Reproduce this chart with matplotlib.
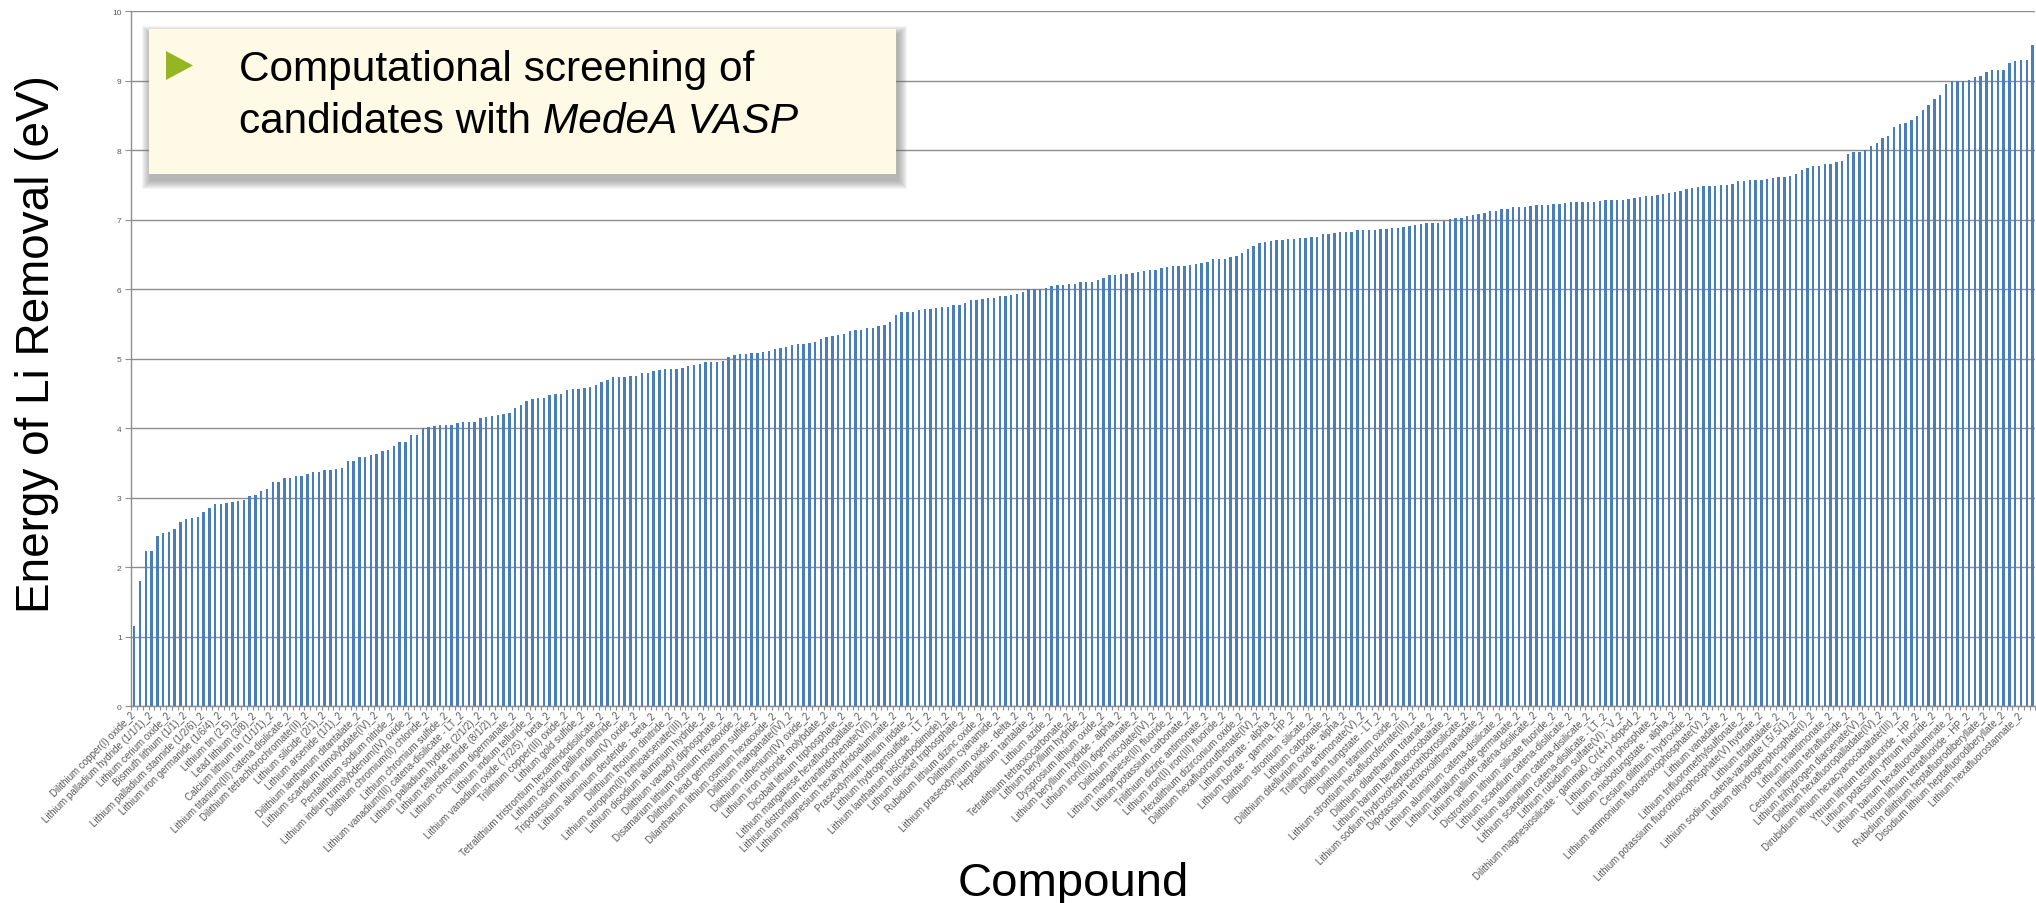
import numpy as np
import matplotlib
matplotlib.use("Agg")
import matplotlib.pyplot as plt
from matplotlib.patches import Rectangle, Polygon

# Li removal energy (eV), compounds sorted by energy
energy_low = [
    1.15, 1.80, 2.23, 2.24, 2.45, 2.49, 2.51, 2.55, 2.66, 2.69,
    2.71, 2.72, 2.80, 2.86, 2.91, 2.91, 2.92, 2.94, 2.96, 2.97,
    3.02, 3.04, 3.10, 3.13, 3.23, 3.23, 3.28, 3.28, 3.31, 3.31,
    3.35, 3.37, 3.37, 3.40, 3.40, 3.41, 3.43, 3.53, 3.53, 3.59,
    3.59, 3.61, 3.63, 3.68, 3.69, 3.75, 3.80, 3.81, 3.90, 3.91,
    4.00, 4.02, 4.04, 4.05, 4.05, 4.05, 4.07, 4.09, 4.09, 4.09,
    4.15, 4.17, 4.18, 4.19,
]
energy_mid = [
    4.20, 4.22, 4.30, 4.34, 4.40, 4.42, 4.43, 4.44, 4.48, 4.49,
    4.50, 4.55, 4.57, 4.57, 4.58, 4.60, 4.62, 4.66, 4.70, 4.74,
    4.74, 4.74, 4.75, 4.76, 4.79, 4.80, 4.82, 4.84, 4.86, 4.86,
    4.86, 4.87, 4.89, 4.91, 4.92, 4.95, 4.96, 4.96, 4.97, 5.02,
    5.05, 5.07, 5.07, 5.08, 5.09, 5.10, 5.12, 5.14, 5.15, 5.17,
    5.20, 5.21, 5.22, 5.23, 5.24, 5.28, 5.32, 5.33, 5.34, 5.36,
    5.40, 5.41, 5.42, 5.44, 5.45, 5.47, 5.49, 5.53, 5.63, 5.67,
    5.67, 5.68, 5.70, 5.71, 5.72, 5.73, 5.74, 5.75, 5.77, 5.78,
    5.80, 5.84, 5.85, 5.86, 5.87, 5.88, 5.90, 5.91, 5.92, 5.93,
    5.96, 6.00, 6.01, 6.01, 6.02, 6.05, 6.06, 6.06, 6.07, 6.08,
    6.10, 6.10, 6.11, 6.14, 6.16, 6.21, 6.21, 6.22, 6.22, 6.24,
    6.25, 6.26, 6.28, 6.28, 6.31, 6.32, 6.33, 6.34, 6.34, 6.35,
    6.36, 6.38, 6.40, 6.43, 6.44, 6.44, 6.46, 6.48, 6.52, 6.58,
    6.62, 6.66, 6.68, 6.69,
]
energy_high = [
    6.71, 6.71, 6.73, 6.73, 6.74, 6.74, 6.75, 6.76, 6.79, 6.80,
    6.81, 6.82, 6.82, 6.83, 6.85, 6.86, 6.86, 6.86, 6.87, 6.87,
    6.88, 6.88, 6.90, 6.91, 6.92, 6.94, 6.95, 6.95, 6.96, 6.99,
    7.01, 7.02, 7.03, 7.05, 7.07, 7.08, 7.10, 7.12, 7.13, 7.15,
    7.16, 7.18, 7.19, 7.19, 7.20, 7.21, 7.22, 7.22, 7.23, 7.23,
    7.24, 7.25, 7.25, 7.25, 7.26, 7.26, 7.27, 7.28, 7.28, 7.29,
    7.29, 7.30, 7.32, 7.33, 7.34, 7.35, 7.36, 7.37, 7.39, 7.40,
    7.42, 7.45, 7.46, 7.47, 7.48, 7.48, 7.49, 7.50, 7.50, 7.52,
    7.56, 7.56, 7.57, 7.57, 7.58, 7.59, 7.60, 7.61, 7.62, 7.63,
    7.66, 7.71, 7.75, 7.77, 7.78, 7.80, 7.81, 7.83, 7.84, 7.95,
    7.97, 7.98, 8.01, 8.06, 8.10, 8.18, 8.20, 8.34, 8.38, 8.40,
    8.44, 8.50, 8.58, 8.65, 8.74, 8.79, 8.95, 9.00, 9.00, 9.00,
    9.01, 9.05, 9.07, 9.13, 9.16, 9.16, 9.16, 9.25, 9.29, 9.30,
    9.30, 9.51,
]

# only every third compound carries a label on the axis
LABEL_STEP = 3
compound_labels = [
    "Dilithium copper(I) oxide_2", "Lithium palladium hydride (1/1/1)_2",
    "Lithium cerium oxide_2", "Bismuth lithium (1/1)_2",
    "Lithium palladium stannide (1/2/6)_2", "Lithium iron germanide (1/6/4)_2",
    "Lithium tin (2.5)_2", "Lead lithium (3/8)_2",
    "Calcium lithium tin (1/1/1)_2", "Lithium titanium(III) catena disilicate_2",
    "Dilithium tetrachlorochromate(II)_2", "Lithium silicide (2/1)_2",
    "Lithium arsenide (1/1)_2", "Dilithium lanthanum ditantalate_2",
    "Lithium scandium trimolybdate(IV)_2", "Pentalithium sodium nitride_2",
    "Lithium indium trimolybdenum(IV) oxide_2", "Dilithium chromium(II) chloride_2",
    "Lithium chromium sulfide_2", "Lithium vanadium(III) catena-disilicate - LT_2",
    "Lithium palladium hydride (2/1/2)_2", "Lithium telluride nitride (8/1/2)_2",
    "Lithium chromium digermanate_2", "Lithium indium telluride_2",
    "Lithium vanadium oxide (.7/2/5) - beta_2", "Trilithium copper(III) oxide_2",
    "Lithium gold sulfide_2", "Tetralithium tristrontium hexanitridodisilicate_2",
    "Lithium calcium gallium dinitride_2", "Tripotassium lithium iridium(V) oxide_2",
    "Lithium aluminium deuteride - beta_2", "Dilithium thorium dinitride_2",
    "Lithium europium(II) trithioarsenate(III)_2", "Lithium disodium aluminium hydride_2",
    "Dilithium vanadyl diphosphate_2", "Disamarium lithium osmium hexaoxide_2",
    "Dilithium lead germanium sulfide_2", "Dilanthanum lithium osmium hexaoxide_2",
    "Dilithium manganate(IV)_2", "Dilithium ruthenium(IV) oxide_2",
    "Lithium iron chloride molybdate_2", "Dicobalt lithium triphosphate_2",
    "Lithium manganese hexafluorogallate_2", "Lithium distrontium tetranitridorhenate(VII)_2",
    "Lithium magnesium hexahydridoaluminate_2", "Praseodymium lithium iridate_2",
    "Lithium hydrogensulfide - LT_2", "Lithium lanthanum bis(carbodiimide)_2",
    "Lithium dinickel triphosphate_2", "Rubidium lithium dizinc oxide_2",
    "Dilithium cyanamide_2", "Lithium praseodymium oxide - delta_2",
    "Heptalithium tantalate_2", "Lithium azide_2",
    "Tetralithium tetraoxocarbonate_2", "Lithium beryllium hydride_2",
    "Dysprosium lithium oxide_2", "Lithium beryllium hydride - alpha_2",
    "Lithium iron(III) digermanate_2", "Dilithium niccolate(IV)_2",
    "Lithium manganese(III) fluoride_2", "Lithium potassium carbonate_2",
    "Trilithium dizinc antimonate_2", "Lithium iron(II) iron(III) fluoride_2",
    "Hexalithium dizirconium oxide_2", "Dilithium hexafluororuthenate(IV)_2",
    "Lithium borate - alpha_2", "Lithium borate - gamma, HP_2",
    "Dilithium strontium silicate_2", "Lithium carbonate_2",
    "Dilithium ditellurium oxide - alpha_2", "Trilithium antimonate(V)_2",
    "Dilithium tungstate - LT_2", "Dilithium titanium oxide_2",
    "Lithium strontium hexafluoroferrate(III)_2", "Dilithium dilanthanum tritanate_2",
    "Lithium barium hexafluorocobaltate_2", "Lithium sodium hydroxoheptaoxotriborosilicate_2",
    "Dipotassium tetraoxolithiovanadate_2", "Lithium aluminium catena-disilicate_2",
    "Lithium tantalum oxide germanate_2", "Lithium gallium catena-disilicate_2",
    "Distrontium lithium silicate fluoride_2", "Lithium scandium catena-disilicate_2",
    "Lithium aluminium catena-disilicate_2", "Lithium scandium catena-disilicate - LT_2",
    "Lithium rubidium sulfate(VI) - V_2", "Dilithium magnesiosilicate - gamma0, Cr(4+)-doped_2",
    "Lithium calcium phosphate_2", "Lithium niobotungstate - alpha_2",
    "Cesium dilithium hydroxide_2", "Lithium ammonium fluorotrioxophosphate(V)_2",
    "Lithium vanadate_2", "Lithium trifluoromethylsulfonate_2",
    "Lithium potassium fluorotrioxophosphate(V) hydrate_2", "Lithium tritantalate_2",
    "Lithium sodium catena-vanadate (.5/.5/1)_2", "Lithium dihydrogenphosphate(I)_2",
    "Lithium triantimonate_2", "Cesium trilithium tetrafluoride_2",
    "Lithium trihydrogen diarsenate(V)_2", "Dilithium hexafluoropalladate(IV)_2",
    "Dirubidium lithium hexacyanocobaltate(III)_2", "Yttrium lithium tetrafluoride - HP_2",
    "Lithium potassium yttrium fluoride_2", "Lithium barium hexafluoroaluminate_2",
    "Yttrium lithium tetrafluoride - HP_2", "Rubidium dilithium heptafluorodiberyllate_2",
    "Disodium lithium heptafluorodiberyllate_2", "Lithium hexafluorostannate_2",
]

energies = np.array(energy_low + energy_mid + energy_high)

W, H = 2036, 904
plt.rcParams["font.family"] = ["Liberation Sans", "DejaVu Sans"]
fig = plt.figure(figsize=(W / 100, H / 100), dpi=100)


def fx(px):
    return px / W


def fy(py):
    # pixel rows are counted from the top
    return 1 - py / H


# ── bar chart ──
ax = fig.add_axes([fx(131.4), fy(707.4), fx(1904), (707.4 - 12.3) / H])
x = np.arange(len(energies))
ax.bar(x, energies, width=0.42, color="#4a7dbb", zorder=2)
ax.set_xlim(-0.5, len(energies) - 0.5)
ax.set_ylim(0, 10)
ax.set_yticks(range(11))
ax.yaxis.grid(True, color="#8e8e8e", lw=1.0)
ax.set_axisbelow(True)
for s in ("top", "right"):
    ax.spines[s].set_visible(False)
for s in ("left", "bottom"):
    ax.spines[s].set_color("#8e8e8e")
    ax.spines[s].set_linewidth(1.0)
ax.tick_params(axis="y", length=4, color="#8e8e8e", labelsize=6,
               labelcolor="#595959", pad=3)

ax.set_xticks(x[::LABEL_STEP])
ax.set_xticklabels(compound_labels, rotation=45, ha="right", va="center",
                   rotation_mode="anchor", fontsize=7.0, color="#595959")
ax.tick_params(axis="x", which="major", length=0, pad=5)
ax.set_xticks(np.arange(len(energies) + 1) - 0.5, minor=True)
ax.tick_params(axis="x", which="minor", length=3, color="#8e8e8e", width=0.8)

# axis titles
fig.text(fx(37.5), fy(344), "Energy of Li Removal (eV)", rotation=90,
         ha="center", va="center", fontsize=33, color="black")
fig.text(fx(1073), fy(896), "Compound", ha="center", va="baseline",
         fontsize=34, color="black")

# ── call-out box with soft shadow ──
bx0, by0, bx1, by1 = 149, 30, 896, 175
for k in range(9, 0, -1):
    fig.patches.append(Rectangle(
        (fx(bx0 + 2 - k), fy(by1 + 6 + k)), fx(bx1 - bx0 + 2 * k), (by1 - by0 + 2 * k) / H,
        transform=fig.transFigure, facecolor="#6e6e6e", edgecolor="none",
        alpha=0.07, zorder=5))
fig.patches.append(Rectangle(
    (fx(bx0), fy(by1)), fx(bx1 - bx0), (by1 - by0) / H,
    transform=fig.transFigure, facecolor="#fefae6", edgecolor="none", zorder=6))
fig.patches.append(Polygon(
    [(fx(166), fy(52)), (fx(166), fy(81)), (fx(193), fy(66.5))], closed=True,
    transform=fig.transFigure, facecolor="#95b623", edgecolor="none", zorder=7))

fig.text(fx(239), fy(81), "Computational screening of", fontsize=30.5,
         va="baseline", ha="left", zorder=8)
t2 = fig.text(fx(239), fy(133), "candidates with", fontsize=30.5,
              va="baseline", ha="left", zorder=8)
renderer = fig.canvas.get_renderer()
end = t2.get_window_extent(renderer=renderer).x1
fig.text(fx(end + 12), fy(133), "MedeA VASP", fontsize=30.5, style="italic",
         va="baseline", ha="left", zorder=8)

fig.savefig("out.png", dpi=100)
